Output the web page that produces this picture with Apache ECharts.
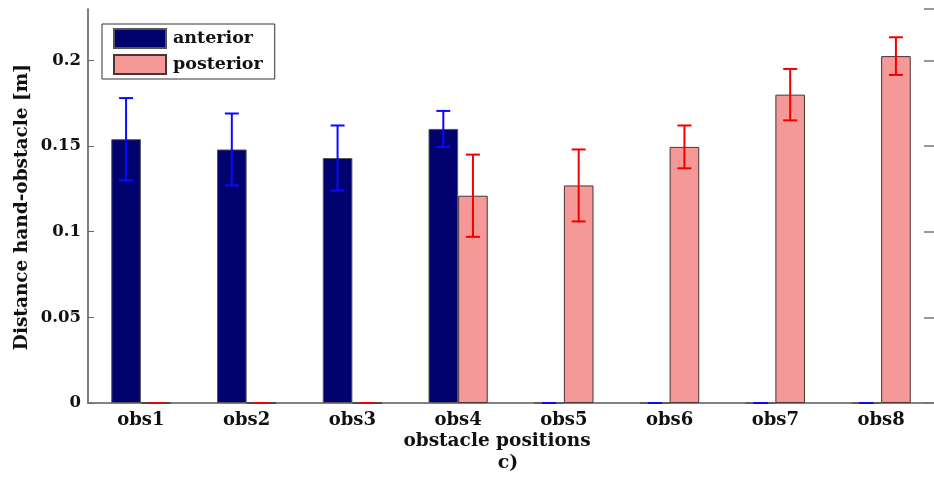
<!DOCTYPE html>
<html>
<head>
<meta charset="utf-8">
<title>Distance hand-obstacle</title>
<script src="https://cdn.jsdelivr.net/npm/echarts@6/dist/echarts.min.js"></script>
<style>
  html, body { margin: 0; padding: 0; background: #fff; }
  #chart { width: 934px; height: 477px; }
</style>
</head>
<body>
<div id="chart"></div>
<script>
// Obstacle positions along the x axis
const categories = ['obs1', 'obs2', 'obs3', 'obs4', 'obs5', 'obs6', 'obs7', 'obs8'];

// Mean hand-obstacle distance [m] and its spread, per placement
const anteriorMean = [0.154, 0.148, 0.143, 0.160, 0, 0, 0, 0];
const anteriorErr  = [0.024, 0.021, 0.019, 0.0105, 0, 0, 0, 0];
const posteriorMean = [0, 0, 0, 0.121, 0.127, 0.1495, 0.180, 0.2025];
const posteriorErr  = [0, 0, 0, 0.024, 0.021, 0.0125, 0.015, 0.011];

// Y axis ticks
const yTicks = [0, 0.05, 0.1, 0.15, 0.2];

const FONT = 'DejaVu Serif';
const BAR_FRACTION = 0.28;

const chart = echarts.init(document.getElementById('chart'), null, { renderer: 'canvas' });

function errorBars(name, means, errs, color, side) {
  return {
    type: 'custom',
    name: name + ' error',
    z: 5,
    data: means.map((m, i) => [i, m, errs[i]]),
    encode: { x: 0, y: 1 },
    renderItem: function (params, api) {
      const i = api.value(0), m = api.value(1), e = api.value(2);
      const band = api.size([1, 0])[0];
      const cx = api.coord([i, m])[0] + side * band * BAR_FRACTION / 2;
      const yTop = api.coord([i, m + e])[1];
      const yBot = api.coord([i, m - e])[1];
      const half = band * 0.066;
      const style = { stroke: color, lineWidth: 2 };
      return {
        type: 'group',
        children: [
          { type: 'line', shape: { x1: cx, y1: yTop, x2: cx, y2: yBot }, style: style },
          { type: 'line', shape: { x1: cx - half, y1: yTop, x2: cx + half, y2: yTop }, style: style },
          { type: 'line', shape: { x1: cx - half, y1: yBot, x2: cx + half, y2: yBot }, style: style }
        ]
      };
    }
  };
}

const option = {
  backgroundColor: '#ffffff',
  animation: false,
  grid: { left: 88, top: 9, width: 850, height: 394, containLabel: false },
  legend: {
    data: ['anterior', 'posterior'],
    orient: 'vertical',
    left: 102,
    top: 24,
    icon: 'rect',
    itemWidth: 52,
    itemHeight: 19,
    itemGap: 5,
    padding: [4, 12, 4, 11],
    borderColor: '#333',
    borderWidth: 1,
    backgroundColor: '#fff',
    textStyle: { fontFamily: FONT, fontSize: 17.5, fontWeight: 'bold', color: '#111', lineHeight: 19, padding: [0, 0, 0, 2] }
  },
  xAxis: [
    {
      type: 'category',
      data: categories,
      position: 'bottom',
      boundaryGap: true,
      axisLine: { lineStyle: { color: '#444', width: 1.5 } },
      axisTick: { inside: true, alignWithLabel: true, length: 7, lineStyle: { color: '#666' } },
      axisLabel: { fontFamily: FONT, fontSize: 18, fontWeight: 'bold', color: '#111', margin: 8 },
      splitLine: { show: false }
    },
    {
      type: 'category',
      data: categories,
      position: 'top',
      boundaryGap: true,
      axisLine: { lineStyle: { color: '#888', width: 1.5 } },
      axisTick: { inside: true, alignWithLabel: true, length: 7, lineStyle: { color: '#777' } },
      axisLabel: { show: false },
      splitLine: { show: false }
    }
  ],
  yAxis: [
    {
      type: 'value',
      min: 0,
      max: 0.23,
      interval: 0.05,
      position: 'left',
      axisLine: { show: true, lineStyle: { color: '#555', width: 1.5 } },
      axisTick: { show: true, inside: true, length: 6, lineStyle: { color: '#666' } },
      axisLabel: {
        fontFamily: FONT, fontSize: 16.5, fontWeight: 'bold', color: '#111', margin: 7,
        showMaxLabel: false,
        formatter: v => (yTicks.some(t => Math.abs(t - v) < 1e-9) ? String(+v.toFixed(2)) : '')
      },
      splitLine: { show: false }
    },
    {
      type: 'value',
      min: 0,
      max: 0.23,
      interval: 0.05,
      position: 'right',
      axisLine: { show: false },
      axisTick: { show: true, inside: true, length: 10, lineStyle: { color: '#777', width: 1.5 } },
      axisLabel: { show: false },
      splitLine: { show: false }
    }
  ],
  graphic: [
    {
      type: 'text',
      x: 22, y: 207,
      rotation: Math.PI / 2,
      style: {
        text: 'Distance hand-obstacle [m]',
        fontFamily: FONT, fontSize: 18.5, fontWeight: 'bold', fill: '#111',
        textAlign: 'center', textVerticalAlign: 'middle'
      }
    },
    {
      type: 'text',
      x: 497, y: 441,
      style: {
        text: 'obstacle positions',
        fontFamily: FONT, fontSize: 18.5, fontWeight: 'bold', fill: '#111',
        textAlign: 'center', textVerticalAlign: 'middle'
      }
    },
    {
      type: 'text',
      x: 508, y: 463,
      style: {
        text: 'c)',
        fontFamily: FONT, fontSize: 19, fontWeight: 'bold', fill: '#111',
        textAlign: 'center', textVerticalAlign: 'middle'
      }
    }
  ],
  series: [
    {
      name: 'anterior',
      type: 'bar',
      data: anteriorMean,
      barWidth: (BAR_FRACTION * 100) + '%',
      barGap: '0%',
      itemStyle: { color: '#02026e', borderColor: '#555', borderWidth: 1 }
    },
    {
      name: 'posterior',
      type: 'bar',
      data: posteriorMean,
      barWidth: (BAR_FRACTION * 100) + '%',
      barGap: '0%',
      itemStyle: { color: '#f59898', borderColor: '#4a3434', borderWidth: 1 }
    },
    errorBars('anterior', anteriorMean, anteriorErr, '#0a0aff', -1),
    errorBars('posterior', posteriorMean, posteriorErr, '#f20000', 1)
  ]
};

chart.setOption(option);
</script>
</body>
</html>
